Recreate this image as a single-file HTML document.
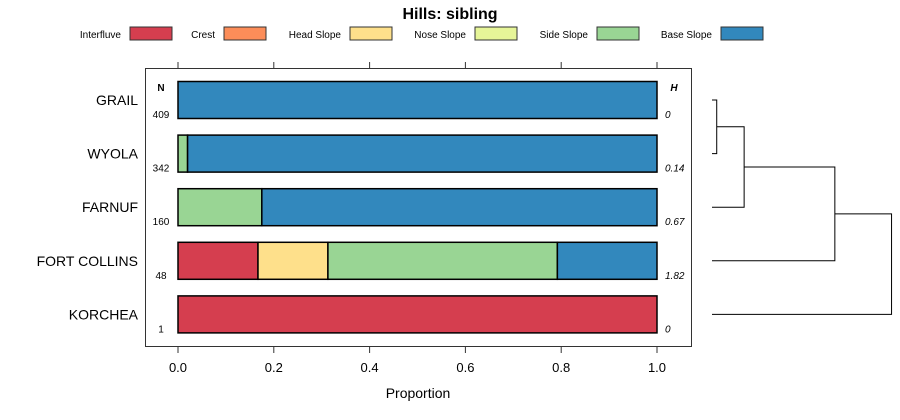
<!DOCTYPE html>
<html><head><meta charset="utf-8"><style>
body{margin:0;background:#fff;}
svg{display:block;font-family:"Liberation Sans",sans-serif;}
</style></head><body>
<svg id="c" width="900" height="420"></svg>
<script>
const categories=["GRAIL","WYOLA","FARNUF","FORT COLLINS","KORCHEA"];
const seriesNames=["Interfluve","Crest","Head Slope","Nose Slope","Side Slope","Base Slope"];
const colors=["#D53E4F","#FC8D59","#FEE08B","#E6F598","#99D594","#3288BD"];
const interfluve=[0,0,0,0.167,1];
const crest=[0,0,0,0,0];
const headSlope=[0,0,0,0.146,0];
const noseSlope=[0,0,0,0,0];
const sideSlope=[0,0.02,0.175,0.479,0];
const baseSlope=[1,0.98,0.825,0.208,0];
const series=[interfluve,crest,headSlope,noseSlope,sideSlope,baseSlope];
const nValues=["409","342","160","48","1"];
const hValues=["0","0.14","0.67","1.82","0"];
const ticks=[0,0.2,0.4,0.6,0.8,1.0];
const tickLabels=["0.0","0.2","0.4","0.6","0.8","1.0"];
// dendrogram merges: [leftNode,rightNode,height]; leaves 0..4, new nodes 5..
const merges=[[0,1,0.15],[5,2,1.02],[6,3,3.9],[7,4,5.7]];

const NS="http://www.w3.org/2000/svg";
const svg=document.getElementById('c');
function el(t,a,p){const e=document.createElementNS(NS,t);for(const k in a)e.setAttribute(k,a[k]);(p||svg).appendChild(e);return e;}
const x=v=>178+v*479;
const yc=i=>100+i*53.6;
const bh=37;

let t=el('text',{x:450,y:19,'text-anchor':'middle','font-size':16,'font-weight':'bold'});t.textContent="Hills: sibling";


const legX=[130,224,350,475,597,721];
seriesNames.forEach((n,i)=>{
 const g=el('g',{});
 
 el('rect',{x:legX[i],y:27,width:42,height:13,fill:colors[i],stroke:'#333','stroke-width':1},g);
 const tx=el('text',{x:legX[i]-9,y:38,'text-anchor':'end','font-size':10},g);tx.textContent=n;
});

const panel=el('rect',{x:145.5,y:68.5,width:546,height:278,fill:'none',stroke:'#333'});


ticks.forEach((v,i)=>{
 el('line',{x1:x(v),x2:x(v),y1:62,y2:68,stroke:'#333'});
 el('line',{x1:x(v),x2:x(v),y1:347,y2:353,stroke:'#333'});
 const l=el('text',{x:x(v),y:372,'text-anchor':'middle','font-size':13});l.textContent=tickLabels[i];
 
});
let xt=el('text',{x:418,y:398,'text-anchor':'middle','font-size':14});xt.textContent="Proportion";


let nh=el('text',{x:161,y:91,'text-anchor':'middle','font-size':10,'font-weight':'bold'});nh.textContent="N";
let hh=el('text',{x:674,y:91,'text-anchor':'middle','font-size':10,'font-weight':'bold','font-style':'italic'});hh.textContent="H";

categories.forEach((c,i)=>{
 const l=el('text',{x:138,y:yc(i)+5,'text-anchor':'end','font-size':14});l.textContent=c;
 
 let acc=0;
 series.forEach((s,j)=>{
  const v=s[i];if(v<=0)return;
  const r=el('rect',{x:x(acc),y:yc(i)-bh/2,width:x(acc+v)-x(acc),height:bh,fill:colors[j],stroke:'#000','stroke-width':1.5});
  
  acc+=v;
 });
 const n=el('text',{x:161,y:yc(i)+18,'text-anchor':'middle','font-size':10});n.textContent=nValues[i];
 
 const h=el('text',{x:665,y:yc(i)+18,'font-size':10,'font-style':'italic'});h.textContent=hValues[i];
 
});

// dendrogram
const dx=h=>712+h*31.5;
const nodes=categories.map((c,i)=>({y:yc(i),h:0}));
const dg=el('g',{});

merges.forEach(m=>{
 const a=nodes[m[0]],b=nodes[m[1]],H=m[2];
 el('path',{d:`M${dx(a.h)},${a.y}H${dx(H)}V${b.y}H${dx(b.h)}`,fill:'none',stroke:'#000','stroke-width':1},dg);
 nodes.push({y:(a.y+b.y)/2,h:H});
});
</script>
</body></html>
